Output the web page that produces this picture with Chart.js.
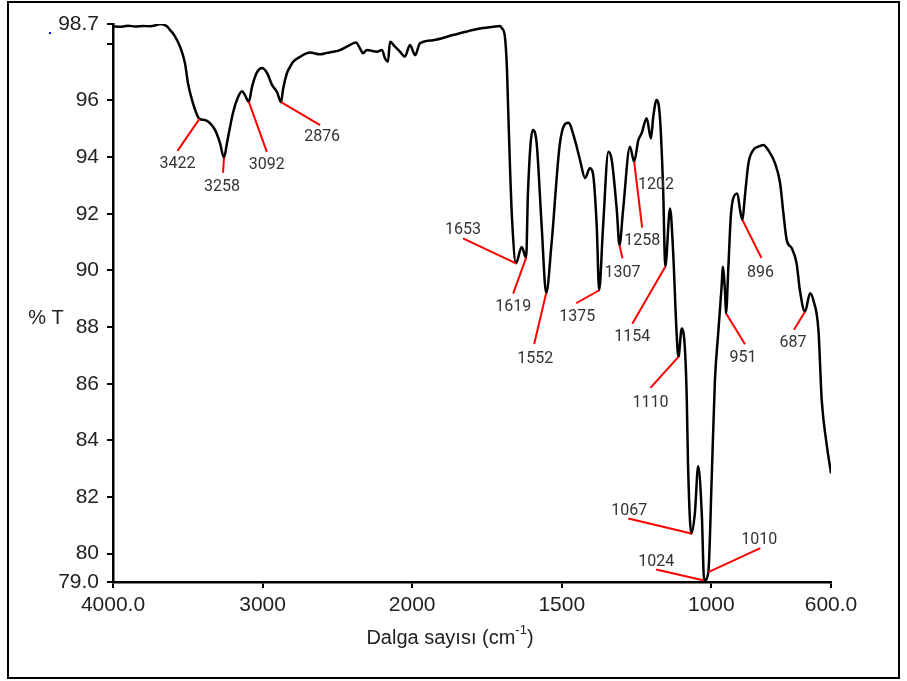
<!DOCTYPE html>
<html>
<head>
<meta charset="utf-8">
<script src="https://cdn.jsdelivr.net/npm/chart.js@4.4.1/dist/chart.umd.min.js"></script>
<style>
	body { margin:0; background:#fff; }
</style>
</head>
<body>
<canvas id="ir_spectrum" width="907" height="681"></canvas>
<script>
//IR spektrumu - dalga sayısı (cm-1)
const wavenumbers = [
	4000, 3950, 3900, 3850, 3800, 3750, 3700, 3686, 3640, 3619,
	3590, 3552, 3519, 3499, 3472, 3438, 3422, 3385, 3352, 3318,
	3285, 3258, 3238, 3198, 3164, 3138, 3118, 3092, 3071, 3037,
	3004, 2970, 2937, 2904, 2876, 2864, 2837, 2817, 2797, 2750,
	2683, 2616, 2569, 2529, 2483, 2436, 2376, 2349, 2329, 2302,
	2235, 2202, 2182, 2162, 2148, 2115, 2081, 2048, 2015, 1990,
	1974, 1930, 1864, 1797, 1763, 1730, 1706, 1700, 1690, 1683,
	1680, 1673, 1666, 1653, 1634, 1619, 1613, 1597, 1584, 1567,
	1552, 1534, 1506, 1478, 1456, 1439, 1422, 1406, 1396, 1383,
	1375, 1362, 1344, 1333, 1316, 1307, 1295, 1272, 1258, 1244,
	1233, 1216, 1202, 1194, 1183, 1172, 1161, 1154, 1138, 1128,
	1116, 1110, 1099, 1088, 1082, 1078, 1067, 1055, 1044, 1032,
	1024, 1010, 999, 988, 977, 965, 962, 954, 951, 943,
	935, 927, 913, 904, 896, 888, 876, 860, 843, 826,
	810, 787, 770, 759, 748, 731, 715, 704, 687, 670,
	659, 642, 631, 615, 600
];
//%T
const transmittance = [
	98.62, 98.60, 98.64, 98.61, 98.63, 98.62, 98.68, 98.70, 98.62, 98.49,
	98.30, 97.90, 97.32, 96.62, 96.02, 95.49, 95.35, 95.31, 95.20, 94.96,
	94.50, 93.98, 94.50, 95.56, 96.12, 96.33, 96.19, 95.95, 96.47, 97.00,
	97.15, 96.97, 96.55, 96.30, 95.94, 96.37, 96.97, 97.18, 97.36, 97.54,
	97.69, 97.63, 97.68, 97.72, 97.78, 97.90, 98.05, 97.84, 97.67, 97.78,
	97.72, 97.78, 97.49, 97.37, 98.07, 97.90, 97.72, 97.55, 97.96, 97.60,
	98.02, 98.13, 98.31, 98.49, 98.56, 98.60, 98.63, 98.55, 98.25, 97.08,
	96.02, 93.65, 91.78, 90.25, 90.83, 90.45, 92.73, 94.96, 94.50, 91.54,
	89.20, 90.96, 94.50, 95.21, 94.60, 93.90, 93.26, 93.61, 93.44, 91.54,
	89.30, 91.53, 94.19, 93.90, 92.13, 90.89, 92.13, 94.37, 93.84, 94.60,
	94.84, 95.37, 94.66, 95.43, 96.02, 95.43, 92.84, 90.13, 92.19, 90.72,
	87.77, 86.95, 87.95, 87.18, 85.42, 83.19, 80.71, 81.43, 83.09, 81.43,
	79.05, 79.35, 82.59, 86.13, 87.79, 89.55, 90.13, 89.20, 88.49, 90.13,
	91.89, 92.54, 92.72, 92.13, 91.78, 92.60, 93.78, 94.25, 94.37, 94.43,
	94.25, 93.78, 93.07, 92.01, 91.07, 90.78, 90.25, 89.30, 88.54, 89.19,
	88.95, 87.89, 85.42, 83.90, 82.84
];

//işaretli pikler
const peakLabels = [3422, 3258, 3092, 2876, 1653, 1619, 1552, 1375, 1307, 1258, 1202, 1154, 1110, 1067, 1024, 1010, 951, 896, 687];

//eksen değerleri
const xTicks = [4000, 3000, 2000, 1500, 1000, 600];
const xTickLabels = ['4000.0', '3000', '2000', '1500', '1000', '600.0'];
const yTicks = [79, 80, 82, 84, 86, 88, 90, 92, 94, 96, 98, 98.7];
const yTickLabels = ['79.0', '80', '82', '84', '86', '88', '90', '92', '94', '96', '', '98.7'];

//pik etiketi yerleşimi: [çizgi dx, çizgi dy, yazı dx, yazı dy] (px)
const peakOffsets = [
	[-22, 32, 0, 13],
	[-1, 15, -1, 14],
	[18, 50, 0, 13],
	[39, 23, 2, 12],
	[-53, -25, 0, -8],
	[-13, 36, 0, 13],
	[-12, 51, 1, 15],
	[-23, 13, 1, 14],
	[3, 13, 0, 15],
	[8, 66, 0, 13],
	[0, 0, 5, 47],
	[-33, 57, 0, 13],
	[-28, 31, 0, 15],
	[-63, -15, 1, -8],
	[-48, -11, 0, -8],
	[52, -24, -1, -8],
	[19, 31, -2, 14],
	[19, 38, -1, 15],
	[-11, 18, -1, 13]
];

// x ekseni: 2000 cm-1 altı iki kat genişlikte
const BREAK = 2000;
class SplitScale extends Chart.LinearScale {
	toAxis(v) {
		return v >= BREAK ? (this.max - v) / 2 : (this.max - BREAK) / 2 + (BREAK - v);
	}
	getPixelForValue(v) {
		return this.getPixelForDecimal(this.toAxis(v) / this.toAxis(this.min));
	}
	getValueForPixel(p) {
		const u = this.getDecimalForPixel(p) * this.toAxis(this.min);
		const half = (this.max - BREAK) / 2;
		return u <= half ? this.max - u * 2 : BREAK - (u - half);
	}
}
SplitScale.id = 'split';
SplitScale.defaults = Chart.LinearScale.defaults;
Chart.register(SplitScale);

// spektrumdan %T (doğrusal ara değer)
function valueAt(wn) {
	for (let i = 0; i < wavenumbers.length - 1; i++) {
		const a = wavenumbers[i], b = wavenumbers[i + 1];
		if (wn <= a && wn >= b) {
			const t = (a - wn) / (a - b);
			return transmittance[i] + t * (transmittance[i + 1] - transmittance[i]);
		}
	}
	return transmittance[transmittance.length - 1];
}

// kırmızı çizgiler + pik numaraları
const peakMarks = {
	id: 'peakMarks',
	afterDatasetsDraw(chart) {
		const ctx = chart.ctx;
		const x = chart.scales.x, y = chart.scales.y;
		ctx.save();
		ctx.font = '16px Roboto';
		ctx.textAlign = 'center';
		ctx.textBaseline = 'middle';
		peakLabels.forEach((wn, i) => {
			const [dx, dy, tx, ty] = peakOffsets[i];
			const px = x.getPixelForValue(wn);
			const py = y.getPixelForValue(valueAt(wn));
			if (dx || dy) {
				ctx.strokeStyle = '#ff0000';
				ctx.lineWidth = 2;
				ctx.beginPath();
				ctx.moveTo(px, py);
				ctx.lineTo(px + dx, py + dy);
				ctx.stroke();
			}
			ctx.fillStyle = '#333';
			ctx.fillText(String(wn), px + dx + tx, py + dy + ty);
		});
		ctx.restore();
	}
};

// çerçeve, eksen başlıkları
const frame = {
	id: 'frame',
	beforeDraw(chart) {
		const ctx = chart.ctx;
		ctx.save();
		ctx.fillStyle = '#fff';
		ctx.fillRect(0, 0, chart.width, chart.height);
		ctx.restore();
	},
	afterDraw(chart) {
		const ctx = chart.ctx;
		ctx.save();
		ctx.strokeStyle = '#000';
		ctx.lineWidth = 2;
		ctx.strokeRect(8, 2, 891, 676);

		ctx.fillStyle = '#0000ff';
		ctx.fillRect(49, 32, 2, 2);

		ctx.fillStyle = '#222';
		ctx.textBaseline = 'middle';
		ctx.font = '20px "Liberation Sans"';
		ctx.textAlign = 'center';
		ctx.fillText('% T', 46, 318);

		// Dalga sayısı (cm-1), -1 üst simge
		const main = 'Dalga sayısı (cm', sup = '-1', end = ')';
		ctx.font = '20px "Liberation Sans"';
		const w1 = ctx.measureText(main).width, w3 = ctx.measureText(end).width;
		ctx.font = '13px "Liberation Sans"';
		const w2 = ctx.measureText(sup).width;
		let left = 450 - (w1 + w2 + w3) / 2;
		ctx.textAlign = 'left';
		ctx.font = '20px "Liberation Sans"';
		ctx.fillText(main, left, 638);
		ctx.font = '13px "Liberation Sans"';
		ctx.fillText(sup, left + w1, 630);
		ctx.font = '20px "Liberation Sans"';
		ctx.fillText(end, left + w1 + w2, 638);
		ctx.restore();
	}
};

const spectrumChart = document.getElementById('ir_spectrum').getContext('2d');
const ir_spectrum = new Chart(spectrumChart, {
	type: 'line',
	plugins: [frame, peakMarks],
	data: {
		datasets: [{
			label: '%T',
			data: wavenumbers.map((wn, i) => ({ x: wn, y: transmittance[i] })),
			borderColor: '#000',
			borderWidth: 2.5,
			borderJoinStyle: 'round',
			pointRadius: 0,
			cubicInterpolationMode: 'monotone',
			fill: false,
		}]
	},
	options: {
		responsive: false,
		animation: false,
		layout: {
			padding: { left: 0, right: 76, top: 24, bottom: 0 }
		},
		scales: {
			x: {
				type: 'split',
				min: 600,
				max: 4000,
				afterBuildTicks: s => { s.ticks = xTicks.map(v => ({ value: v })); },
				afterFit: s => { s.height = 99; },
				border: { color: '#000', width: 2.5 },
				grid: { display: true, drawOnChartArea: false, color: '#000', lineWidth: 2, tickLength: 6 },
				ticks: {
					autoSkip: false,
					maxRotation: 0,
					padding: 5,
					color: '#222',
					font: { family: 'Liberation Sans', size: 21 },
					callback: (v, i) => xTickLabels[i]
				}
			},
			y: {
				min: 79,
				max: 98.7,
				afterBuildTicks: s => { s.ticks = yTicks.map(v => ({ value: v })); },
				afterFit: s => { s.width = 113; },
				border: { color: '#000', width: 2.5 },
				grid: { display: true, drawOnChartArea: false, color: '#000', lineWidth: 2, tickLength: 6 },
				ticks: {
					autoSkip: false,
					padding: 8,
					color: '#222',
					font: { family: 'Liberation Sans', size: 21 },
					callback: (v, i) => yTickLabels[i]
				}
			}
		},
		plugins: {
			legend: { display: false },
			tooltip: { enabled: false }
		}
	}
});
</script>
</body>
</html>
